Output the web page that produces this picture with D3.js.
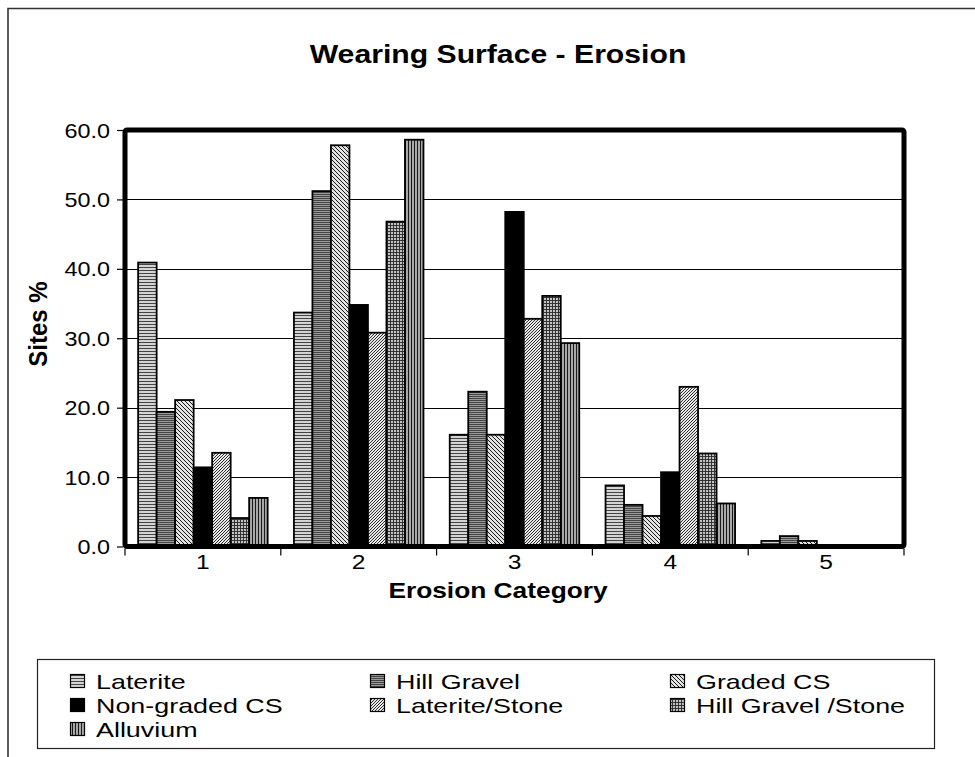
<!DOCTYPE html>
<html>
<head>
<meta charset="utf-8">
<script src="https://cdn.jsdelivr.net/npm/d3@7"></script>
<style>
  html, body { margin: 0; padding: 0; background: #fff; }
  svg { display: block; font-family: "Liberation Sans", Arial, sans-serif; }
</style>
</head>
<body>
<svg id="chart" width="975" height="757"></svg>
<script>
// ---------- DATA ----------
const categories = ["1", "2", "3", "4", "5"];
const seriesNames = ["Laterite", "Hill Gravel", "Graded CS", "Non-graded CS", "Laterite/Stone", "Hill Gravel /Stone", "Alluvium"];
const laterite      = [40.9, 33.7, 16.1,  8.8, 0.8];
const hillGravel    = [19.4, 51.2, 22.3,  6.0, 1.5];
const gradedCS      = [21.1, 57.8, 16.1,  4.4, 0.8];
const nonGradedCS   = [11.4, 34.8, 48.2, 10.7, 0.0];
const lateriteStone = [13.5, 30.8, 32.8, 23.0, 0.0];
const hillGravelStone = [4.1, 46.8, 36.1, 13.4, 0.0];
const alluvium      = [ 7.0, 58.6, 29.3,  6.2, 0.0];
const yTicks = [0, 10, 20, 30, 40, 50, 60];
const titleText = "Wearing Surface - Erosion";
const xTitle = "Erosion Category";
const yTitle = "Sites %";

const seriesValues = [laterite, hillGravel, gradedCS, nonGradedCS, lateriteStone, hillGravelStone, alluvium];
const patternIds = ["pLat", "pHill", "pGraded", "pNon", "pLatStone", "pHillStone", "pAll"];

// ---------- LAYOUT ----------
const FONT = "'Liberation Sans', Arial, sans-serif";
const SX = 1.17; // horizontal stretch of text in reference
const plot = { left: 125, right: 904, top: 130, bottom: 546.5 };

const svg = d3.select("#chart").attr("font-family", FONT);

// patterns
const defs = svg.append("defs");
function pat(id, w, h, bg, draw) {
  const p = defs.append("pattern").attr("id", id).attr("patternUnits", "userSpaceOnUse")
    .attr("width", w).attr("height", h);
  p.append("rect").attr("width", w).attr("height", h).attr("fill", bg);
  draw(p);
}
pat("pLat", 4, 3, "#d4d4d4", p => p.append("rect").attr("y", 0).attr("width", 4).attr("height", 1).attr("fill", "#444"));
pat("pHill", 4, 2, "#9a9a9a", p => p.append("rect").attr("y", 0).attr("width", 4).attr("height", 1).attr("fill", "#444"));
pat("pGraded", 4, 4, "#e4e4e4", p => p.append("path").attr("d", "M-1,-1 L5,5 M-1,3 L1,5 M3,-1 L5,1").attr("stroke", "#1a1a1a").attr("stroke-width", 1));
pat("pNon", 4, 4, "#000000", p => {});
pat("pLatStone", 3, 3, "#e8e8e8", p => p.append("path").attr("d", "M-1,4 L4,-1 M-1,1 L1,-1 M2,4 L4,2").attr("stroke", "#1a1a1a").attr("stroke-width", 0.9));
pat("pHillStone", 3, 3, "#c4c4c4", p => p.append("path").attr("d", "M0,0.5 H3 M0.5,0 V3").attr("stroke", "#333").attr("stroke-width", 1).attr("shape-rendering", "crispEdges"));
pat("pAll", 3, 4, "#a8a8a8", p => p.append("rect").attr("x", 0).attr("width", 1).attr("height", 4).attr("fill", "#1a1a1a"));

// outer frame
svg.append("path").attr("d", "M8,757 V8.5 H975").attr("fill", "none").attr("stroke", "#333").attr("stroke-width", 1.6);

// scales
const x = d3.scaleBand().domain(categories).range([plot.left, plot.right]).padding(0);
const xs = d3.scaleBand().domain(seriesNames).range([0, x.bandwidth()]).paddingInner(0).paddingOuter(0.71);
const y = d3.scaleLinear().domain([0, 60]).range([plot.bottom, plot.top]);

// gridlines
svg.append("g").selectAll("line").data(yTicks.filter(t => t > 0 && t < 60)).join("line")
  .attr("x1", plot.left).attr("x2", plot.right)
  .attr("y1", d => Math.round(y(d)) + 0.5).attr("y2", d => Math.round(y(d)) + 0.5)
  .attr("stroke", "#000").attr("stroke-width", 1);

// bars
const barData = [];
seriesNames.forEach((s, i) => categories.forEach((c, j) => {
  barData.push({ s, c, v: seriesValues[i][j], pid: patternIds[i] });
}));
svg.append("g").selectAll("rect").data(barData.filter(d => d.v > 0)).join("rect")
  .attr("x", d => x(d.c) + xs(d.s))
  .attr("width", xs.bandwidth())
  .attr("y", d => y(d.v))
  .attr("height", d => y(0) - y(d.v))
  .attr("fill", d => `url(#${d.pid})`)
  .attr("stroke", "#000").attr("stroke-width", 1.8);

// plot border
svg.append("rect").attr("x", plot.left).attr("y", plot.top)
  .attr("width", plot.right - plot.left).attr("height", plot.bottom - plot.top)
  .attr("fill", "none").attr("stroke", "#000").attr("stroke-width", 5).attr("rx", 2);

// y axis
const yAxis = svg.append("g").attr("transform", `translate(${plot.left - 2},0)`)
  .call(d3.axisLeft(y).tickValues(yTicks).tickSize(6).tickFormat(d3.format(".1f")));
yAxis.attr("font-family", FONT);
yAxis.select(".domain").remove();
yAxis.selectAll(".tick line").attr("stroke", "#000").attr("stroke-width", 1.2);
yAxis.selectAll(".tick text")
  .attr("x", null).attr("dy", null)
  .attr("transform", `translate(-13,7) scale(${SX},1)`)
  .attr("font-size", 20).attr("fill", "#000");

// x axis ticks at category boundaries
const bounds = categories.map(c => x(c)).concat([x(categories[categories.length - 1]) + x.bandwidth()]);
svg.append("g").selectAll("line").data(bounds).join("line")
  .attr("x1", d => d).attr("x2", d => d)
  .attr("y1", plot.bottom + 2).attr("y2", plot.bottom + 9)
  .attr("stroke", "#000").attr("stroke-width", 1.2);

// x labels
svg.append("g").selectAll("text").data(categories).join("text")
  .attr("transform", d => `translate(${x(d) + x.bandwidth() / 2},569) scale(${SX},1)`)
  .attr("text-anchor", "middle").attr("font-size", 21).attr("fill", "#000").text(d => d);

// titles
svg.append("text").attr("transform", `translate(498,63) scale(${SX},1)`)
  .attr("text-anchor", "middle").attr("font-size", 25.8).attr("font-weight", "bold").text(titleText);
svg.append("text").attr("transform", `translate(498,598) scale(${SX},1)`)
  .attr("text-anchor", "middle").attr("font-size", 22.5).attr("font-weight", "bold").text(xTitle);
svg.append("text").attr("transform", `translate(46.5,324) scale(1.1,1) rotate(-90)`)
  .attr("text-anchor", "middle").attr("font-size", 24).attr("font-weight", "bold").text(yTitle);

// legend
const LSX = 1.28;
const leg = svg.append("g");
leg.append("rect").attr("x", 37.5).attr("y", 659.5).attr("width", 897).attr("height", 89)
  .attr("fill", "#fff").attr("stroke", "#222").attr("stroke-width", 1.2);
const colX = [70, 370, 670];
const rowY = [681, 705, 729];
seriesNames.forEach((s, i) => {
  const cx = colX[i % 3], cy = rowY[Math.floor(i / 3)];
  leg.append("rect").attr("x", cx + 0.5).attr("y", cy - 6.5).attr("width", 14).attr("height", 13)
    .attr("fill", `url(#${patternIds[i]})`).attr("stroke", "#000").attr("stroke-width", 1.2);
  leg.append("text").attr("transform", `translate(${cx + 26},${cy + 7.8}) scale(${LSX},1)`)
    .attr("font-size", 21).attr("fill", "#000").text(s);
});
</script>
</body>
</html>
